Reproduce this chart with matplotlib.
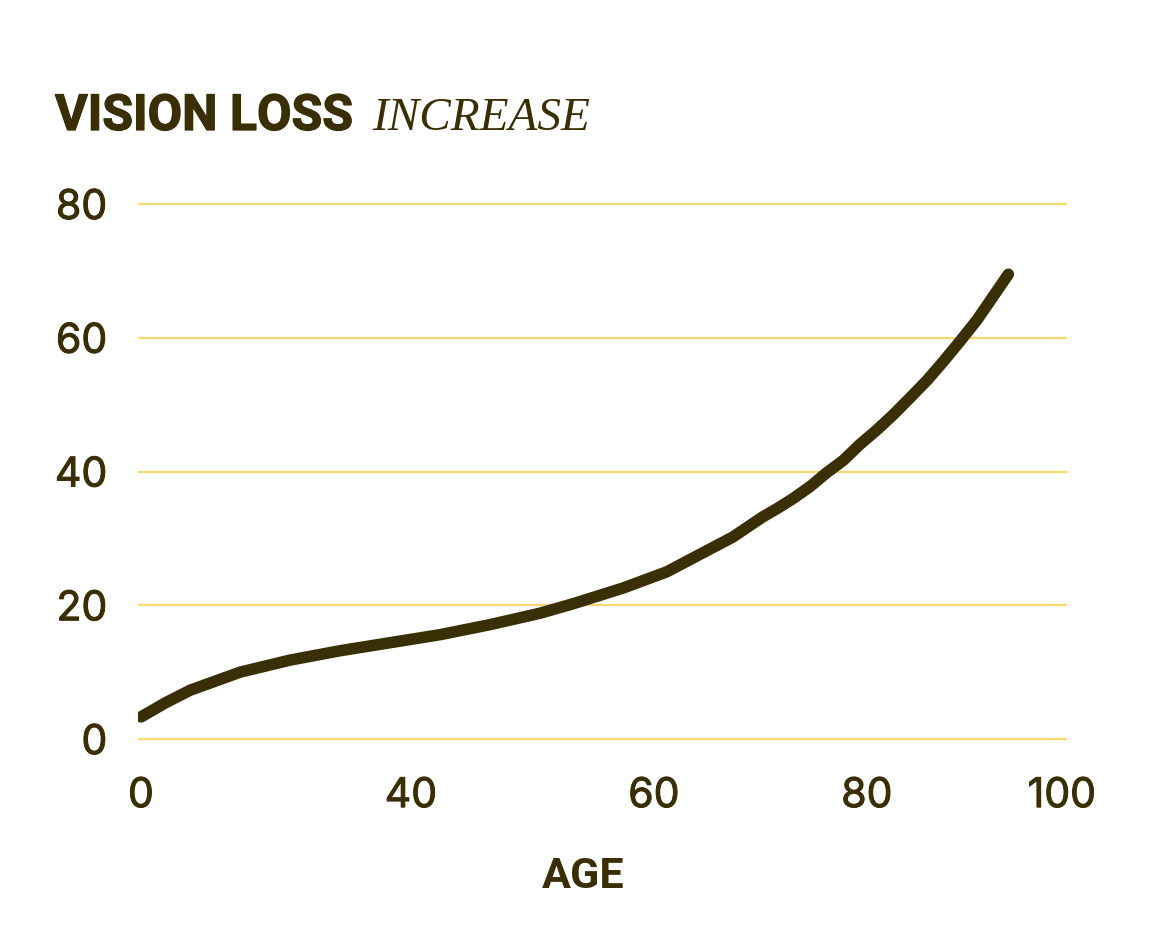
import numpy as np
import matplotlib
matplotlib.use('Agg')
import matplotlib.pyplot as plt
import matplotlib.patheffects as pe

# values (age in years, vision loss)
age = [0, 3.6, 7.3, 14.7, 22.1, 29.5, 36.9, 42.4, 46.5, 50.6, 53.3, 57.5,
       61.2, 67.4, 70.2, 71.6, 73.1, 74.7, 76.2, 77.8, 79.3, 81.0,
       82.7, 84.4, 86.2, 87.8, 89.5, 91.3, 92.9, 94.5]
loss = [3.3, 5.4, 7.3, 10.0, 11.8, 13.2, 14.4, 15.6, 17.1, 18.8, 20.2, 22.6,
        25.0, 30.2, 33.2, 34.5, 36.0, 37.8, 39.8, 41.7, 44.0, 46.2,
        48.5, 51.0, 53.7, 56.4, 59.4, 62.7, 66.1, 69.5]
x_ticks = [0, 40, 60, 80, 100]
y_ticks = [0, 20, 40, 60, 80]

DARK = '#3a2e05'
GRID = '#f6d870'

# the age axis in the reference is not linear; map it piecewise
anchor_age = np.array([-5, 0, 40, 60, 80, 100, 110])
anchor_pos = np.array([-30.75, 3, 273, 516, 729, 924, 1021.5])


def fwd(a):
    return np.interp(a, anchor_age, anchor_pos)


def inv(p):
    return np.interp(p, anchor_pos, anchor_age)


W, H = 1152, 932
fig = plt.figure(figsize=(W / 100, H / 100), dpi=100)
fig.patch.set_facecolor('white')

# axes box in pixels: x 138..1067, y (value 0 at 739, 80 at 204)
ppu = (739 - 204) / 80
ylo, yhi = -3, 83
top_px = 204 - (yhi - 80) * ppu
bot_px = 739 + (0 - ylo) * ppu
ax = fig.add_axes([138 / W, 1 - bot_px / H, (1067 - 138) / W, (bot_px - top_px) / H])
ax.set_xscale('function', functions=(fwd, inv))
ax.set_xlim(inv(0), inv(929))
ax.set_ylim(ylo, yhi)

for v in y_ticks:
    ax.axhline(v, color=GRID, lw=1.6, zorder=1)

ax.plot(age, loss, color=DARK, lw=8.3, solid_capstyle='round',
        solid_joinstyle='round', zorder=3)

for s in ax.spines.values():
    s.set_visible(False)
ax.set_xticks(x_ticks)
ax.set_xticklabels([str(t) for t in x_ticks])
ax.set_yticks(y_ticks)
ax.set_yticklabels([str(t) for t in y_ticks])
ax.tick_params(length=0, colors=DARK, labelsize=29.5)
ax.tick_params(axis='x', pad=13)
ax.tick_params(axis='y', pad=22)
thick = [pe.withStroke(linewidth=0.7, foreground=DARK)]
for lab in ax.get_xticklabels() + ax.get_yticklabels():
    lab.set_family('Inter')
    lab.set_path_effects(thick)

fig.text(55 / W, 1 - 130 / H, 'VISION LOSS', family='Roboto', weight='bold',
         fontsize=36, color=DARK, ha='left', va='baseline',
         path_effects=[pe.withStroke(linewidth=0.9, foreground=DARK)])
fig.text(372 / W, 1 - 130 / H, 'INCREASE', family='Liberation Serif',
         style='italic', fontsize=34, color=DARK, ha='left', va='baseline')
fig.text(583 / W, 1 - 876 / H, 'AGE', family='Roboto', weight='bold',
         fontsize=31, color=DARK, ha='center', va='center')

fig.savefig('out.png', dpi=100)
